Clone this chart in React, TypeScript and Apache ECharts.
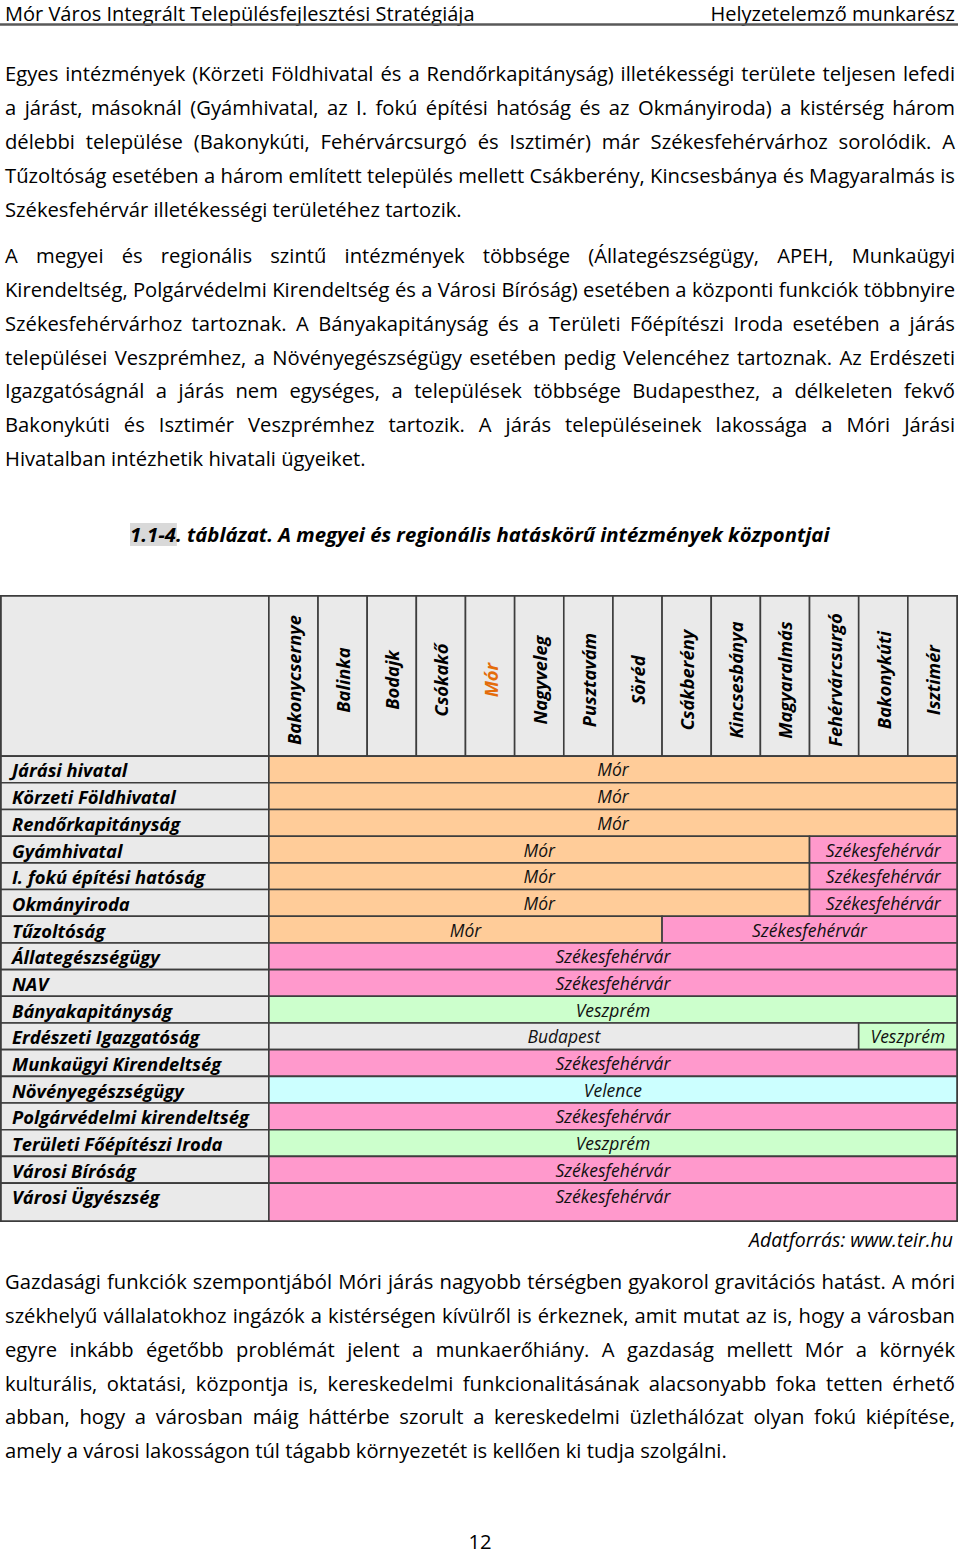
import React, { useEffect, useRef } from "react";
import * as echarts from "echarts";

// ---------------- content ----------------
const HEADER_LEFT = "Mór Város Integrált Településfejlesztési Stratégiája";
const HEADER_RIGHT = "Helyzetelemző munkarész";

const PARAGRAPH_1 = [
  "Egyes intézmények (Körzeti Földhivatal és a Rendőrkapitányság) illetékességi területe teljesen lefedi",
  "a járást, másoknál (Gyámhivatal, az I. fokú építési hatóság és az Okmányiroda) a kistérség három",
  "délebbi települése (Bakonykúti, Fehérvárcsurgó és Isztimér) már Székesfehérvárhoz sorolódik. A",
  "Tűzoltóság esetében a három említett település mellett Csákberény, Kincsesbánya és Magyaralmás is",
  "Székesfehérvár illetékességi területéhez tartozik.",
];
const PARAGRAPH_2 = [
  "A megyei és regionális szintű intézmények többsége (Állategészségügy, APEH, Munkaügyi",
  "Kirendeltség, Polgárvédelmi Kirendeltség és a Városi Bíróság) esetében a központi funkciók többnyire",
  "Székesfehérvárhoz tartoznak. A Bányakapitányság és a Területi Főépítészi Iroda esetében a járás",
  "települései Veszprémhez, a Növényegészségügy esetében pedig Velencéhez tartoznak. Az Erdészeti",
  "Igazgatóságnál a járás nem egységes, a települések többsége Budapesthez, a délkeleten fekvő",
  "Bakonykúti és Isztimér Veszprémhez tartozik. A járás településeinek lakossága a Móri Járási",
  "Hivatalban intézhetik hivatali ügyeiket.",
];
const PARAGRAPH_3 = [
  "Gazdasági funkciók szempontjából Móri járás nagyobb térségben gyakorol gravitációs hatást. A móri",
  "székhelyű vállalatokhoz ingázók a kistérségen kívülről is érkeznek, amit mutat az is, hogy a városban",
  "egyre inkább égetőbb problémát jelent a munkaerőhiány. A gazdaság mellett Mór a környék",
  "kulturális, oktatási, központja is, kereskedelmi funkcionalitásának alacsonyabb foka tetten érhető",
  "abban, hogy a városban máig háttérbe szorult a kereskedelmi üzlethálózat olyan fokú kiépítése,",
  "amely a városi lakosságon túl tágabb környezetét is kellően ki tudja szolgálni.",
];

const CAPTION_NUMBER = "1.1-4";
const CAPTION_TEXT = ". táblázat. A megyei és regionális hatáskörű intézmények központjai";
const SOURCE_NOTE = "Adatforrás: www.teir.hu";
const PAGE_NUMBER = "12";

// ---------------- table data ----------------
const VILLAGES = [
  "Bakonycsernye", "Balinka", "Bodajk", "Csókakő", "Mór", "Nagyveleg", "Pusztavám",
  "Söréd", "Csákberény", "Kincsesbánya", "Magyaralmás", "Fehérvárcsurgó", "Bakonykúti", "Isztimér",
];
const HIGHLIGHT_VILLAGE = "Mór";

const INSTITUTIONS = [
  "Járási hivatal", "Körzeti Földhivatal", "Rendőrkapitányság", "Gyámhivatal",
  "I. fokú építési hatóság", "Okmányiroda", "Tűzoltóság", "Állategészségügy", "NAV",
  "Bányakapitányság", "Erdészeti Igazgatóság", "Munkaügyi Kirendeltség", "Növényegészségügy",
  "Polgárvédelmi kirendeltség", "Területi Főépítészi Iroda", "Városi Bíróság", "Városi Ügyészség",
];

// [institution, first village, last village, centre]
const CENTRE_SPANS: [string, string, string, string][] = [
  ["Járási hivatal", "Bakonycsernye", "Isztimér", "Mór"],
  ["Körzeti Földhivatal", "Bakonycsernye", "Isztimér", "Mór"],
  ["Rendőrkapitányság", "Bakonycsernye", "Isztimér", "Mór"],
  ["Gyámhivatal", "Bakonycsernye", "Magyaralmás", "Mór"],
  ["Gyámhivatal", "Fehérvárcsurgó", "Isztimér", "Székesfehérvár"],
  ["I. fokú építési hatóság", "Bakonycsernye", "Magyaralmás", "Mór"],
  ["I. fokú építési hatóság", "Fehérvárcsurgó", "Isztimér", "Székesfehérvár"],
  ["Okmányiroda", "Bakonycsernye", "Magyaralmás", "Mór"],
  ["Okmányiroda", "Fehérvárcsurgó", "Isztimér", "Székesfehérvár"],
  ["Tűzoltóság", "Bakonycsernye", "Söréd", "Mór"],
  ["Tűzoltóság", "Csákberény", "Isztimér", "Székesfehérvár"],
  ["Állategészségügy", "Bakonycsernye", "Isztimér", "Székesfehérvár"],
  ["NAV", "Bakonycsernye", "Isztimér", "Székesfehérvár"],
  ["Bányakapitányság", "Bakonycsernye", "Isztimér", "Veszprém"],
  ["Erdészeti Igazgatóság", "Bakonycsernye", "Fehérvárcsurgó", "Budapest"],
  ["Erdészeti Igazgatóság", "Bakonykúti", "Isztimér", "Veszprém"],
  ["Munkaügyi Kirendeltség", "Bakonycsernye", "Isztimér", "Székesfehérvár"],
  ["Növényegészségügy", "Bakonycsernye", "Isztimér", "Velence"],
  ["Polgárvédelmi kirendeltség", "Bakonycsernye", "Isztimér", "Székesfehérvár"],
  ["Területi Főépítészi Iroda", "Bakonycsernye", "Isztimér", "Veszprém"],
  ["Városi Bíróság", "Bakonycsernye", "Isztimér", "Székesfehérvár"],
  ["Városi Ügyészség", "Bakonycsernye", "Isztimér", "Székesfehérvár"],
];

// ---------------- styles / layout ----------------
const FONT = "Open Sans";
const LINE_STEP = 33.85;
const TEXT_LEFT = 5;
const TEXT_RIGHT = 955;
const BORDER = "#3d3d3d";
const LABEL_BG = "#EAEAEA";
const ORANGE_TEXT = "#E46C0A";
const CENTRE_COLORS: Record<string, string> = {
  "Mór": "#FFCC99",
  "Székesfehérvár": "#FF99CC",
  "Veszprém": "#CCFFCC",
  "Velence": "#CCFFFF",
  "Budapest": "#EAEAEA",
};
const HEADER_UNITS = 6;
const LABEL_UNITS = 5.45;
const LAST_ROW_EXTRA = 0.42;

let measureCtx: CanvasRenderingContext2D | null = null;
function getCtx() {
  if (!measureCtx) measureCtx = document.createElement("canvas").getContext("2d");
  return measureCtx;
}
function textWidth(text: string, size: number, weight = "normal", style = "normal") {
  const ctx = getCtx();
  if (!ctx) return text.length * size * 0.5;
  ctx.font = `${style} ${weight} ${size}px "${FONT}"`;
  return ctx.measureText(text).width;
}
// distance of the SVG "central" baseline above the alphabetic baseline
function centralOffset(size: number, weight = "normal", style = "normal") {
  const ctx = getCtx();
  if (ctx) {
    ctx.font = `${style} ${weight} ${size}px "${FONT}"`;
    const m: any = ctx.measureText("Hg");
    if (typeof m.fontBoundingBoxAscent === "number" && typeof m.fontBoundingBoxDescent === "number") {
      return (m.fontBoundingBoxAscent - m.fontBoundingBoxDescent) / 2;
    }
  }
  return 0.388 * size;
}
function fitSize(text: string, target: number, weight = "normal", style = "normal") {
  return (target / textWidth(text, 100, weight, style)) * 100;
}

function textEl(text: string, x: number, baseline: number, opts: any = {}) {
  const align = opts.align || "left";
  const size = opts.size;
  const weight = opts.weight || "normal";
  const fstyle = opts.style || "normal";
  return {
    type: "text",
    x,
    y: baseline - centralOffset(size, weight, fstyle),
    silent: true,
    style: {
      text,
      fill: opts.fill || "#000",
      fontFamily: FONT,
      fontSize: size,
      fontWeight: weight,
      fontStyle: fstyle,
      align,
      textAlign: align,
      verticalAlign: "middle",
      textVerticalAlign: "middle",
    },
  };
}

function paragraph(lines: string[], firstBaseline: number, size: number) {
  const els: any[] = [];
  lines.forEach((line, k) => {
    const base = firstBaseline + k * LINE_STEP;
    const justify = k < lines.length - 1;
    if (!justify) {
      els.push(textEl(line, TEXT_LEFT, base, { size }));
      return;
    }
    const words = line.split(" ");
    const widths = words.map((w) => textWidth(w, size));
    const total = widths.reduce((a, b) => a + b, 0);
    const gap = Math.max(2.5, (TEXT_RIGHT - TEXT_LEFT - total) / (words.length - 1));
    let x = TEXT_LEFT;
    words.forEach((w, i) => {
      els.push(textEl(w, x, base, { size }));
      x += widths[i] + gap;
    });
  });
  return els;
}

function rectBetween(api: any, x0: number, y0: number, x1: number, y1: number) {
  const a = api.coord([x0, y0]);
  const b = api.coord([x1, y1]);
  return {
    x: Math.min(a[0], b[0]),
    y: Math.min(a[1], b[1]),
    width: Math.abs(b[0] - a[0]),
    height: Math.abs(b[1] - a[1]),
  };
}

function buildOption() {
  const bodySize = fitSize(PARAGRAPH_1[PARAGRAPH_1.length - 1], 457);
  const headerSize = fitSize(HEADER_LEFT, 470);
  const captionSize = fitSize(CAPTION_NUMBER + CAPTION_TEXT, 700, "bold", "italic");
  const sourceSize = fitSize(SOURCE_NOTE, 204, "normal", "italic");
  const rowLabelSize = fitSize("Polgárvédelmi kirendeltség", 237, "bold", "italic");
  const cellSize = fitSize("Székesfehérvár", 115, "normal", "italic");
  const villageSize = fitSize("Bakonycsernye", 130, "bold", "italic");

  const captionNumW = textWidth(CAPTION_NUMBER, captionSize, "bold", "italic");
  const graphics: any[] = [
    textEl(HEADER_LEFT, TEXT_LEFT, 20.5, { size: headerSize }),
    textEl(HEADER_RIGHT, TEXT_RIGHT, 20.5, { size: headerSize, align: "right" }),
    {
      type: "line",
      silent: true,
      shape: { x1: 0, y1: 24.5, x2: 958, y2: 24.5 },
      style: { stroke: "#595959", lineWidth: 2.5 },
    },
    ...paragraph(PARAGRAPH_1, 81.2, bodySize),
    ...paragraph(PARAGRAPH_2, 263, bodySize),
    {
      type: "rect",
      silent: true,
      shape: { x: 130, y: 523, width: captionNumW + 1, height: 23 },
      style: { fill: "#D9D9D9" },
    },
    textEl(CAPTION_NUMBER + CAPTION_TEXT, 130, 541.5, { size: captionSize, weight: "bold", style: "italic" }),
    textEl(SOURCE_NOTE, 953, 1247, { size: sourceSize, style: "italic", align: "right" }),
    ...paragraph(PARAGRAPH_3, 1289, bodySize),
    textEl(PAGE_NUMBER, 480, 1549, { size: bodySize, align: "center" }),
  ];

  const lastRow = INSTITUTIONS.length - 1;

  const spanData = CENTRE_SPANS.map(([inst, from, to]) => [
    VILLAGES.indexOf(from),
    INSTITUTIONS.indexOf(inst),
    VILLAGES.indexOf(to),
  ]);

  return {
    animation: false,
    backgroundColor: "#ffffff",
    grid: {
      left: 1,
      top: 596,
      width: 956,
      height: 625,
      show: true,
      borderColor: BORDER,
      borderWidth: 2,
      backgroundColor: "transparent",
    },
    xAxis: { type: "value", min: -LABEL_UNITS, max: VILLAGES.length, show: false },
    yAxis: {
      type: "value",
      min: -HEADER_UNITS,
      max: INSTITUTIONS.length + LAST_ROW_EXTRA,
      inverse: true,
      show: false,
    },
    graphic: { elements: graphics },
    series: [
      {
        type: "custom",
        name: "corner",
        silent: true,
        data: [[0, 0]],
        renderItem: (_p: any, api: any) => ({
          type: "rect",
          shape: rectBetween(api, -LABEL_UNITS, -HEADER_UNITS, 0, 0),
          style: { fill: LABEL_BG, stroke: BORDER, lineWidth: 1.6 },
        }),
      },
      {
        type: "custom",
        name: "villages",
        silent: true,
        data: VILLAGES.map((_, i) => [i, 0]),
        renderItem: (params: any, api: any) => {
          const i = api.value(0);
          const r = rectBetween(api, i, -HEADER_UNITS, i + 1, 0);
          const name = VILLAGES[params.dataIndex];
          return {
            type: "group",
            children: [
              { type: "rect", shape: r, style: { fill: LABEL_BG, stroke: BORDER, lineWidth: 1.6 } },
              {
                type: "text",
                x: r.x + r.width / 2,
                y: r.y + r.height / 2 + 4,
                rotation: Math.PI / 2,
                style: {
                  text: name,
                  fill: name === HIGHLIGHT_VILLAGE ? ORANGE_TEXT : "#000",
                  fontFamily: FONT,
                  fontSize: villageSize,
                  fontWeight: "bold",
                  fontStyle: "italic",
                  align: "center",
                  verticalAlign: "middle",
                },
              },
            ],
          };
        },
      },
      {
        type: "custom",
        name: "institutions",
        silent: true,
        data: INSTITUTIONS.map((_, i) => [0, i]),
        renderItem: (params: any, api: any) => {
          const row = api.value(1);
          const bottom = row === lastRow ? row + 1 + LAST_ROW_EXTRA : row + 1;
          const r = rectBetween(api, -LABEL_UNITS, row, 0, bottom);
          const c = api.coord([-LABEL_UNITS, row + 0.5]);
          return {
            type: "group",
            children: [
              { type: "rect", shape: r, style: { fill: LABEL_BG, stroke: BORDER, lineWidth: 1.6 } },
              {
                type: "text",
                x: c[0] + 11,
                y: c[1] + 0.5,
                style: {
                  text: INSTITUTIONS[params.dataIndex],
                  fill: "#000",
                  fontFamily: FONT,
                  fontSize: rowLabelSize,
                  fontWeight: "bold",
                  fontStyle: "italic",
                  align: "left",
                  verticalAlign: "middle",
                },
              },
            ],
          };
        },
      },
      {
        type: "custom",
        name: "centres",
        silent: true,
        data: spanData,
        renderItem: (params: any, api: any) => {
          const x0 = api.value(0);
          const row = api.value(1);
          const x1 = api.value(2) + 1;
          const bottom = row === lastRow ? row + 1 + LAST_ROW_EXTRA : row + 1;
          const centre = CENTRE_SPANS[params.dataIndex][3];
          const r = rectBetween(api, x0, row, x1, bottom);
          const c = api.coord([(x0 + x1) / 2, row + 0.5]);
          return {
            type: "group",
            children: [
              {
                type: "rect",
                shape: r,
                style: { fill: CENTRE_COLORS[centre] || "#fff", stroke: BORDER, lineWidth: 1.6 },
              },
              {
                type: "text",
                x: c[0],
                y: c[1],
                style: {
                  text: centre,
                  fill: "#111",
                  fontFamily: FONT,
                  fontSize: cellSize,
                  fontStyle: "italic",
                  align: "center",
                  verticalAlign: "middle",
                },
              },
            ],
          };
        },
      },
    ],
  };
}

export default function App() {
  const ref = useRef<HTMLDivElement>(null);
  useEffect(() => {
    document.body.style.margin = "0";
    if (!ref.current) return;
    const chart = echarts.init(ref.current, null, { renderer: "svg" });
    chart.setOption(buildOption() as any);
    return () => chart.dispose();
  }, []);
  return (
    <div
      ref={ref}
      style={{ width: 960, height: 1556, position: "absolute", left: 0, top: 0, background: "#fff" }}
    />
  );
}
